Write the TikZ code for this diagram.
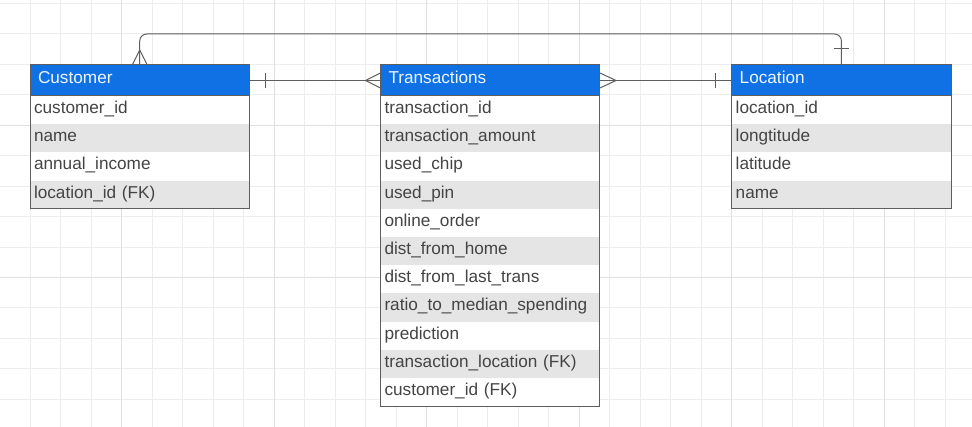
\documentclass[tikz,border=0pt]{standalone}
\usepackage{fontspec}
\setmainfont{Liberation Sans}
\definecolor{hdrblue}{RGB}{16,113,229}
\definecolor{hdrtext}{RGB}{238,246,255}
\definecolor{rowtext}{RGB}{68,68,68}
\definecolor{rowgray}{RGB}{229,229,229}
\definecolor{edgegray}{RGB}{94,94,94}
\definecolor{gridminor}{RGB}{237,237,237}
\definecolor{gridmajor}{RGB}{224,224,224}

\begin{document}
\begin{tikzpicture}[x=0.75pt, y=-0.75pt,
    every node/.style={font=\fontsize{12.9}{15}\selectfont, outer sep=0pt},
    hdr/.style={anchor=north west, fill=hdrblue, draw=edgegray, line width=0.75pt,
      text=hdrtext, inner xsep=6pt, text width=152.6pt, align=left,
      minimum height=23.25pt, text height=0.72em, text depth=0.22em},
    rowa/.style={anchor=north west, fill=white, text=rowtext, inner xsep=3pt,
      text width=158.6pt, align=left, minimum height=21.15pt,
      text height=0.72em, text depth=0.22em},
    rowb/.style={rowa, fill=rowgray},
    border/.style={draw=edgegray, line width=0.75pt},
    conn/.style={draw=edgegray, line width=0.75pt}]

    \useasboundingbox[fill=white] (0,0) rectangle (972,427);

    % background grid
    \foreach \k in {0,...,31}
      \draw[gridminor, line width=0.75pt] (30.5*\k-0.3,0) -- (30.5*\k-0.3,427);
    \foreach \k in {0,...,13}
      \draw[gridminor, line width=0.75pt] (0,30.45*\k+3.5) -- (972,30.45*\k+3.5);
    \foreach \k in {4,9,...,29}
      \draw[gridmajor, line width=0.75pt] (30.5*\k-0.3,0) -- (30.5*\k-0.3,427);
    \foreach \k in {4,9}
      \draw[gridmajor, line width=0.75pt] (0,30.45*\k+3.5) -- (972,30.45*\k+3.5);

    % Customer
    \node[hdr] (cust) at (30,65) {Customer};
    \node[rowa] (cust1) at (cust.south west) {customer\_id};
    \node[rowb] (cust2) at (cust1.south west) {name};
    \node[rowa] (cust3) at (cust2.south west) {annual\_income};
    \node[rowb] (cust4) at (cust3.south west) {location\_id (FK)};
    \draw[border] (cust.north west) rectangle (cust4.south east);

    % Transactions
    \node[hdr] (trans) at (380.5,65) {Transactions};
    \node[rowa] (trans1) at (trans.south west) {transaction\_id};
    \node[rowb] (trans2) at (trans1.south west) {transaction\_amount};
    \node[rowa] (trans3) at (trans2.south west) {used\_chip};
    \node[rowb] (trans4) at (trans3.south west) {used\_pin};
    \node[rowa] (trans5) at (trans4.south west) {online\_order};
    \node[rowb] (trans6) at (trans5.south west) {dist\_from\_home};
    \node[rowa] (trans7) at (trans6.south west) {dist\_from\_last\_trans};
    \node[rowb] (trans8) at (trans7.south west) {ratio\_to\_median\_spending};
    \node[rowa] (trans9) at (trans8.south west) {prediction};
    \node[rowb] (trans10) at (trans9.south west) {transaction\_location (FK)};
    \node[rowa] (trans11) at (trans10.south west) {customer\_id (FK)};
    \draw[border] (trans.north west) rectangle (trans11.south east);

    % Location
    \node[hdr] (loc) at (731.7,65) {Location};
    \node[rowa] (loc1) at (loc.south west) {location\_id};
    \node[rowb] (loc2) at (loc1.south west) {longtitude};
    \node[rowa] (loc3) at (loc2.south west) {latitude};
    \node[rowb] (loc4) at (loc3.south west) {name};
    \draw[border] (loc.north west) rectangle (loc4.south east);

    % Customer -- Transactions
    \draw[conn] (cust.east) -- (trans.west);
    \draw[conn] (cust.east) ++(16,-7.5) -- ++(0,15);
    \draw[conn] (trans.west) ++(-15,0) -- ++(15,-7.5);
    \draw[conn] (trans.west) ++(-15,0) -- ++(15,7.5);

    % Transactions -- Location
    \draw[conn] (trans.east) -- (loc.west);
    \draw[conn] (trans.east) ++(16,0) -- ++(-16,-7.5);
    \draw[conn] (trans.east) ++(16,0) -- ++(-16,7.5);
    \draw[conn] (loc.west) ++(-16,-7.5) -- ++(0,15);

    % Customer -- Location (over the top)
    \coordinate (topy) at (0,34);
    \draw[conn, rounded corners=5.25pt] (cust.north) -- (cust.north |- topy) -| (loc.north);
    \draw[conn] (cust.north) ++(0,-15) -- ++(-7.5,15);
    \draw[conn] (cust.north) ++(0,-15) -- ++(7.5,15);
    \draw[conn] (loc.north) ++(-7.5,-16) -- ++(15,0);
\end{tikzpicture}
\end{document}
